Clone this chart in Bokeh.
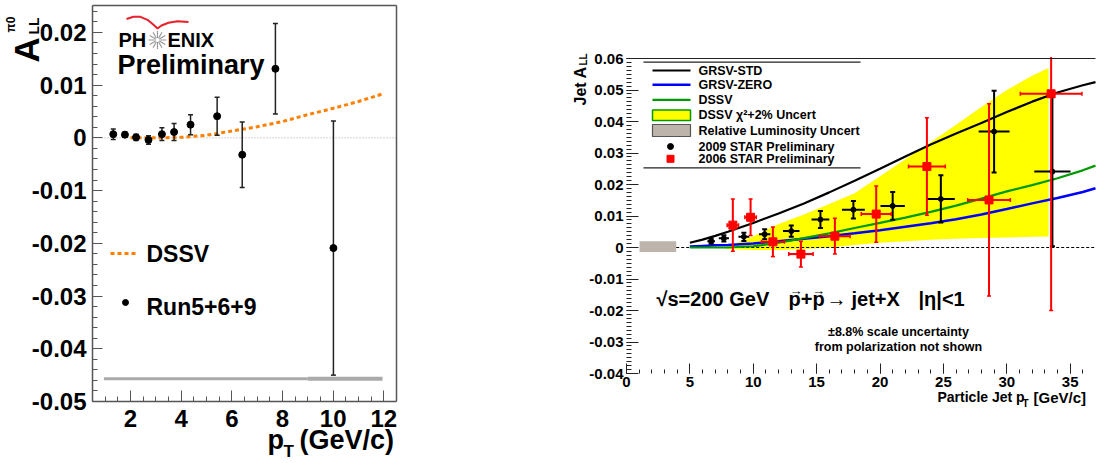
import math
import numpy as np
from bokeh.plotting import figure
from bokeh.layouts import row
from bokeh.models import FixedTicker, CustomJSTickFormatter, Label, LinearAxis
from bokeh.embed import file_html
from bokeh.resources import INLINE

FONT = "Liberation Sans"

# ===================== Left panel: PHENIX pi0 A_LL =====================
pi0_pt = [1.32, 1.78, 2.22, 2.71, 3.24, 3.72, 4.37, 5.42, 6.41, 7.72, 10.01]
pi0_all = [0.0007, 0.0006, 0.0001, -0.0004, 0.0007, 0.0011, 0.0025, 0.0041, -0.0032, 0.0131, -0.0209]
pi0_err = [0.0010, 0.0005, 0.0006, 0.0008, 0.0012, 0.0016, 0.0019, 0.0036, 0.0062, 0.0086, 0.0241]
dssv_pi0_pt = [2, 3, 4, 5, 6, 7, 8, 9, 10, 11, 12]
dssv_pi0_all = [0.0, 0.0, 0.0001, 0.0005, 0.0013, 0.0021, 0.0031, 0.0044, 0.0056, 0.0069, 0.0084]
pi0_scale_lo = [0.95, 9.0]
pi0_scale_hi = [9.0, 11.95]
pi0_scale_y = [-0.0457, -0.0457]
pi0_scale_w = [3, 4]
left_xlim = (0.5, 12.5)
left_ylim = (-0.05, 0.0251)
left_xticks = [2, 4, 6, 8, 10, 12]
left_yticks = [-0.05, -0.04, -0.03, -0.02, -0.01, 0.0, 0.01, 0.02]

# ===================== Right panel: STAR jet A_LL =====================
star09_pt = [6.68, 7.68, 9.26, 10.9, 13.0, 15.3, 17.9, 21.0, 24.8, 29.0, 33.6]
star09_all = [0.0020, 0.0029, 0.0034, 0.0042, 0.0052, 0.0089, 0.0120, 0.0132, 0.0154, 0.0368, 0.0241]
star09_yerr = [0.0008, 0.0010, 0.0013, 0.0016, 0.0018, 0.0027, 0.0028, 0.0044, 0.0075, 0.0130, 0.0237]
star09_xerr = [0.3, 0.4, 0.43, 0.45, 0.65, 0.7, 0.9, 0.96, 1.1, 1.22, 1.43]

star06_pt = [8.39, 9.79, 11.55, 13.76, 16.44, 19.7, 23.7, 28.6, 33.5]
star06_all = [0.0071, 0.0096, 0.0018, -0.0021, 0.0036, 0.0106, 0.0257, 0.0151, 0.0488]
star06_yerr = [0.0083, 0.0058, 0.0047, 0.0041, 0.0057, 0.0089, 0.0155, 0.0305, 0.0688]
star06_xerr = [0.45, 0.45, 0.9, 0.96, 1.2, 1.18, 1.45, 1.68, 2.43]

theory_pt = [5, 6, 7, 8, 10, 12, 14, 16, 18, 20, 22, 24, 26, 28, 30, 32, 34, 36, 37]
grsv_std = [0.0015, 0.0025, 0.0037, 0.0050, 0.0078, 0.0108, 0.0140, 0.0175, 0.0212, 0.0250,
            0.0289, 0.0327, 0.0362, 0.0395, 0.0430, 0.0463, 0.0492, 0.0515, 0.0525]
grsv_zero = [0.0003, 0.0005, 0.0007, 0.0008, 0.0013, 0.0020, 0.0028, 0.0036, 0.0045, 0.0055,
             0.0066, 0.0077, 0.0090, 0.0105, 0.0122, 0.0140, 0.0157, 0.0176, 0.0188]
dssv_jet = [0.0, 0.0, 0.0, 0.0, 0.0004, 0.0015, 0.0030, 0.0045, 0.0062, 0.0078,
            0.0095, 0.0113, 0.0133, 0.0155, 0.0178, 0.0198, 0.0220, 0.0245, 0.0260]

band_pt = [7.6, 8, 10, 12, 14, 16, 18, 20, 22, 24, 26, 28, 30, 32, 33.3]
band_hi = [0.0, 0.0005, 0.0035, 0.0075, 0.0105, 0.0138, 0.0172, 0.0226, 0.0280, 0.0334,
           0.0390, 0.0446, 0.0500, 0.0545, 0.0570]
band_lo = [0.0, -0.0005, -0.0008, -0.0008, -0.0005, 0.0, 0.0008, 0.0015, 0.0020, 0.0025,
           0.0028, 0.0030, 0.0032, 0.0034, 0.0035]

lumi_box = [1.03, 3.92, -0.0014, 0.0020]   # left, right, bottom, top
right_xlim = (0.0, 37.0)
right_ylim = (-0.04, 0.06)
right_xticks = [0, 5, 10, 15, 20, 25, 30, 35]
right_yticks = [-0.04, -0.03, -0.02, -0.01, 0.0, 0.01, 0.02, 0.03, 0.04, 0.05, 0.06]


def add_text(p, x, y, text, size, align="left", baseline="middle", angle=0.0,
             style="bold", color="black", font=FONT):
    p.add_layout(Label(x=x, y=y, text=text, text_font=font, text_font_size=f"{size}px",
                       text_font_style=style, text_color=color, text_align=align,
                       text_baseline=baseline, angle=angle))


def style_axis(ax, color, size, line_color, line_width):
    ax.axis_line_color = line_color
    ax.axis_line_width = line_width
    ax.major_tick_line_color = color
    ax.minor_tick_line_color = color
    ax.major_tick_out = 0
    ax.minor_tick_out = 0
    ax.major_label_text_font = FONT
    ax.major_label_text_font_style = "bold"
    ax.major_label_text_font_size = f"{size}px"
    ax.major_label_text_color = "black"


def frame_axis(p, loc, side, bounds, color, width):
    ax = LinearAxis(fixed_location=loc, bounds=bounds, ticker=FixedTicker(ticks=[], minor_ticks=[]),
                    axis_line_color=color, axis_line_width=width, major_tick_line_color=None,
                    minor_tick_line_color=None, major_label_text_alpha=0)
    p.add_layout(ax, side)


fmt2 = CustomJSTickFormatter(code="return Math.abs(tick) < 1e-9 ? '0' : tick.toFixed(2);")
fmt0 = CustomJSTickFormatter(code="return tick.toFixed(0);")

# ----------------------------- left figure -----------------------------
W1, H = 540, 463
SX1 = 304.0 / (left_xlim[1] - left_xlim[0])      # px per unit
SY1 = 396.0 / (left_ylim[1] - left_ylim[0])
X0_1 = left_xlim[0] - 92 / SX1
YT_1 = left_ylim[0] + 401 / SY1


def lx(px):
    return X0_1 + px / SX1


def ly(py):
    return YT_1 - py / SY1


p1 = figure(width=W1, height=H, min_border=0, min_border_left=0, min_border_right=0,
            min_border_top=0, min_border_bottom=0, title=None,
            x_range=(lx(0), lx(W1)), y_range=(ly(H), ly(0)),
            output_backend="svg", toolbar_location=None, outline_line_color=None)
p1.grid.visible = False
xa, ya = p1.xaxis[0], p1.yaxis[0]
xa.fixed_location = left_ylim[0]
xa.bounds = left_xlim
ya.fixed_location = left_xlim[0]
ya.bounds = left_ylim
xa.ticker = FixedTicker(ticks=left_xticks, minor_ticks=np.arange(1, 12.01, 0.5).tolist())
ya.ticker = FixedTicker(ticks=left_yticks,
                        minor_ticks=np.round(np.arange(-0.05, 0.0241, 0.002), 4).tolist())
ya.formatter = fmt2
xa.formatter = fmt0
for ax in (xa, ya):
    style_axis(ax, "#555555", 24, "#555555", 1.5)
ya.major_tick_in = 10
ya.minor_tick_in = 5
xa.major_tick_in = 11
xa.minor_tick_in = 5
ya.major_label_standoff = 6
xa.major_label_standoff = 8
frame_axis(p1, left_xlim[1], "right", left_ylim, "#555555", 1.5)
frame_axis(p1, left_ylim[1], "above", left_xlim, "#555555", 1.5)

p1.segment(x0=[left_xlim[0]], y0=[0], x1=[left_xlim[1]], y1=[0], line_color="#aaaaaa",
           line_dash="1 2", line_width=1)
p1.segment(x0=pi0_scale_lo, y0=pi0_scale_y, x1=pi0_scale_hi, y1=pi0_scale_y,
           line_color="#aaaaaa", line_width=pi0_scale_w)
p1.line(dssv_pi0_pt, dssv_pi0_all, line_color="#ff7f00", line_width=3, line_dash="4 3")
lo = [a - e for a, e in zip(pi0_all, pi0_err)]
hi = [a + e for a, e in zip(pi0_all, pi0_err)]
p1.segment(x0=pi0_pt, y0=lo, x1=pi0_pt, y1=hi, line_color="#222222", line_width=1.5)
p1.scatter(pi0_pt, lo, marker="dash", size=5, line_color="#222222", line_width=1.5)
p1.scatter(pi0_pt, hi, marker="dash", size=5, line_color="#222222", line_width=1.5)
p1.scatter(pi0_pt, pi0_all, marker="circle", size=7, color="black")

# PHENIX logo
arc_px = [126, 133, 140, 147, 153, 157, 161, 168, 177, 188]
arc_py = [18.5, 16.3, 16.3, 19.3, 24.3, 28, 25, 22.3, 20.8, 21.5]
p1.line([lx(v) for v in arc_px], [ly(v) for v in arc_py], line_color="#e8202a", line_width=2)
cx, cy, r = 157, 39.5, 9
ang = np.arange(12) * np.pi / 6
p1.segment(x0=[lx(cx + 2 * math.cos(a)) for a in ang], y0=[ly(cy + 2 * math.sin(a)) for a in ang],
           x1=[lx(cx + r * math.cos(a)) for a in ang], y1=[ly(cy + r * math.sin(a)) for a in ang],
           line_color="#9a9a9a", line_width=1.2)
add_text(p1, lx(118), ly(39.5), "PH", 20)
add_text(p1, lx(167), ly(39.5), "ENIX", 20)
add_text(p1, lx(117), ly(64), "Preliminary", 27)

# left legend
p1.line([lx(110), lx(137)], [ly(253), ly(253)], line_color="#ff7f00", line_width=3, line_dash="4 3")
add_text(p1, lx(146), ly(253), "DSSV", 23)
p1.scatter([lx(125)], [ly(302)], marker="circle", size=6, color="black")
add_text(p1, lx(146), ly(306), "Run5+6+9", 23)

# left axis titles
add_text(p1, lx(25.5), ly(62), "A", 35, angle=math.pi / 2)
add_text(p1, lx(33), ly(34), "LL", 14, angle=math.pi / 2)
add_text(p1, lx(10), ly(32), "π0", 12, angle=math.pi / 2)
add_text(p1, lx(267), ly(439), "p", 27)
add_text(p1, lx(283), ly(451), "T", 17)
add_text(p1, lx(299), ly(439), "(GeV/c)", 27)

# ----------------------------- right figure -----------------------------
OFF2 = W1
W2 = 1103 - W1
SX2 = 469.0 / (right_xlim[1] - right_xlim[0])
SY2 = 315.0 / (right_ylim[1] - right_ylim[0])
CLIP_TOP = right_ylim[1] + 0.0005   # ROOT clips error bars at the top of its frame


def rx(px):
    return right_xlim[0] + (px - 626) / SX2


def ry(py):
    return right_ylim[1] - (py - 58) / SY2


p2 = figure(width=W2, height=H, min_border=0, min_border_left=0, min_border_right=0,
            min_border_top=0, min_border_bottom=0, title=None,
            x_range=(rx(OFF2), rx(OFF2 + W2)), y_range=(ry(H), ry(0)),
            output_backend="svg", toolbar_location=None, outline_line_color=None)
p2.grid.visible = False
xb, yb = p2.xaxis[0], p2.yaxis[0]
xb.fixed_location = right_ylim[0]
xb.bounds = right_xlim
yb.fixed_location = right_xlim[0]
yb.bounds = right_ylim
xb.ticker = FixedTicker(ticks=right_xticks, minor_ticks=list(range(0, 37)))
yb.ticker = FixedTicker(ticks=right_yticks,
                        minor_ticks=np.round(np.arange(-0.04, 0.0601, 0.00125), 5).tolist())
yb.formatter = fmt2
xb.formatter = fmt0
for ax in (xb, yb):
    style_axis(ax, "#222222", 15, None, 1)
yb.major_tick_in = 12
yb.minor_tick_in = 5
xb.major_tick_in = 10
xb.minor_tick_in = 4
yb.major_label_standoff = 3
xb.major_label_standoff = 3
frame_axis(p2, right_ylim[1], "above", right_xlim, "#222222", 1.2)

# band, luminosity box, zero line
p2.varea(x=band_pt, y1=band_lo, y2=band_hi, fill_color="#ffff00")
p2.quad(left=[lumi_box[0]], right=[lumi_box[1]], bottom=[lumi_box[2]], top=[lumi_box[3]],
        fill_color="#bdb5ab", line_color=None)
p2.segment(x0=[lumi_box[1]], y0=[0], x1=[right_xlim[1]], y1=[0], line_color="black",
           line_width=1, line_dash="3 2")

# theory curves
p2.line(theory_pt, grsv_std, line_color="black", line_width=2.2)
p2.line(theory_pt, grsv_zero, line_color="#0000ff", line_width=2.5)
p2.line(theory_pt, dssv_jet, line_color="#009a00", line_width=2.2)

# STAR 2009 (black)
b_lo = [a - e for a, e in zip(star09_all, star09_yerr)]
b_hi = [a + e for a, e in zip(star09_all, star09_yerr)]
b_xl = [a - e for a, e in zip(star09_pt, star09_xerr)]
b_xh = [a + e for a, e in zip(star09_pt, star09_xerr)]
p2.segment(x0=star09_pt, y0=b_lo, x1=star09_pt, y1=b_hi, line_color="black", line_width=2)
p2.segment(x0=b_xl, y0=star09_all, x1=b_xh, y1=star09_all, line_color="black", line_width=2)
p2.scatter(star09_pt, b_lo, marker="dash", size=5, line_color="black", line_width=2)
p2.scatter(star09_pt, b_hi, marker="dash", size=5, line_color="black", line_width=2)
p2.scatter(star09_pt, star09_all, marker="circle", size=5, color="black")

# STAR 2006 (red)
r_lo = [a - e for a, e in zip(star06_all, star06_yerr)]
r_hi = [a + e for a, e in zip(star06_all, star06_yerr)]
r_hi_draw = [min(v, CLIP_TOP) for v in r_hi]
cap_x = [x for x, v in zip(star06_pt, r_hi) if v <= CLIP_TOP]
cap_y = [v for v in r_hi if v <= CLIP_TOP]
r_xl = [a - e for a, e in zip(star06_pt, star06_xerr)]
r_xh = [a + e for a, e in zip(star06_pt, star06_xerr)]
p2.segment(x0=star06_pt, y0=r_lo, x1=star06_pt, y1=r_hi_draw, line_color="#ff0000", line_width=2)
p2.segment(x0=r_xl, y0=star06_all, x1=r_xh, y1=star06_all, line_color="#ff0000", line_width=2)
p2.scatter(star06_pt, r_lo, marker="dash", size=4, line_color="#ff0000", line_width=1.5)
p2.scatter(cap_x, cap_y, marker="dash", size=4, line_color="#ff0000", line_width=1.5)
p2.scatter(r_xl, star06_all, marker="dash", size=4, angle=math.pi / 2, line_color="#ff0000", line_width=1.5)
p2.scatter(r_xh, star06_all, marker="dash", size=4, angle=math.pi / 2, line_color="#ff0000", line_width=1.5)
p2.scatter(star06_pt, star06_all, marker="square", size=8, color="#ff0000")

# right legend (ROOT-style box: top and bottom rules only)
p2.segment(x0=[rx(643), rx(643)], y0=[ry(61.7), ry(167.3)], x1=[rx(860), rx(860)],
           y1=[ry(61.7), ry(167.3)], line_color="#222222", line_width=1.2)
leg_y = [70, 84.3, 99.3, 114.7, 130, 146, 158.3]
p2.line([rx(652), rx(690)], [ry(leg_y[0])] * 2, line_color="black", line_width=2.2)
p2.line([rx(652), rx(690)], [ry(leg_y[1])] * 2, line_color="#0000ff", line_width=2.5)
p2.line([rx(652), rx(690)], [ry(leg_y[2])] * 2, line_color="#009a00", line_width=2.2)
p2.quad(left=[rx(652)], right=[rx(690)], bottom=[ry(120)], top=[ry(109.5)],
        fill_color="#ffff00", line_color="#009a00", line_width=1.5)
p2.quad(left=[rx(652)], right=[rx(690)], bottom=[ry(136)], top=[ry(124)],
        fill_color="#bdb5ab", line_color="#555555", line_width=1.2)
p2.scatter([rx(670)], [ry(leg_y[5])], marker="circle", size=6, color="black")
p2.scatter([rx(670)], [ry(leg_y[6])], marker="square", size=7, color="#ff0000")
leg_txt = ["GRSV-STD", "GRSV-ZERO", "DSSV", "DSSV χ²+2% Uncert", "Relative Luminosity Uncert",
           "2009 STAR Preliminary", "2006 STAR Preliminary"]
for t, yy in zip(leg_txt, leg_y):
    add_text(p2, rx(698), ry(yy), t, 12.5)

# physics annotation
add_text(p2, rx(656), ry(298.5), "√s=200 GeV", 20)
add_text(p2, rx(788), ry(298.5), "p+p", 20)
add_text(p2, rx(795.5), ry(290), "→", 13, align="center", style="normal")
add_text(p2, rx(818), ry(290), "→", 13, align="center", style="normal")
add_text(p2, rx(826), ry(298.5), "→", 20, style="normal")
add_text(p2, rx(851), ry(298.5), "jet+X", 20)
add_text(p2, rx(918), ry(298.5), "|η|<1", 20)
add_text(p2, rx(898), ry(331), "±8.8% scale uncertainty", 12.5, align="center")
add_text(p2, rx(898), ry(346), "from polarization not shown", 12.5, align="center")

# right axis titles
add_text(p2, rx(579.5), ry(105), "Jet A", 16, angle=math.pi / 2)
add_text(p2, rx(583), ry(65), "LL", 10, angle=math.pi / 2)
add_text(p2, rx(937), ry(396.7), "Particle Jet p", 14)
add_text(p2, rx(1022), ry(403), "T", 10)
add_text(p2, rx(1033), ry(396.7), "[GeV/c]", 15)

layout = row(p1, p2)
open("out.html", "w").write(file_html(layout, INLINE))
